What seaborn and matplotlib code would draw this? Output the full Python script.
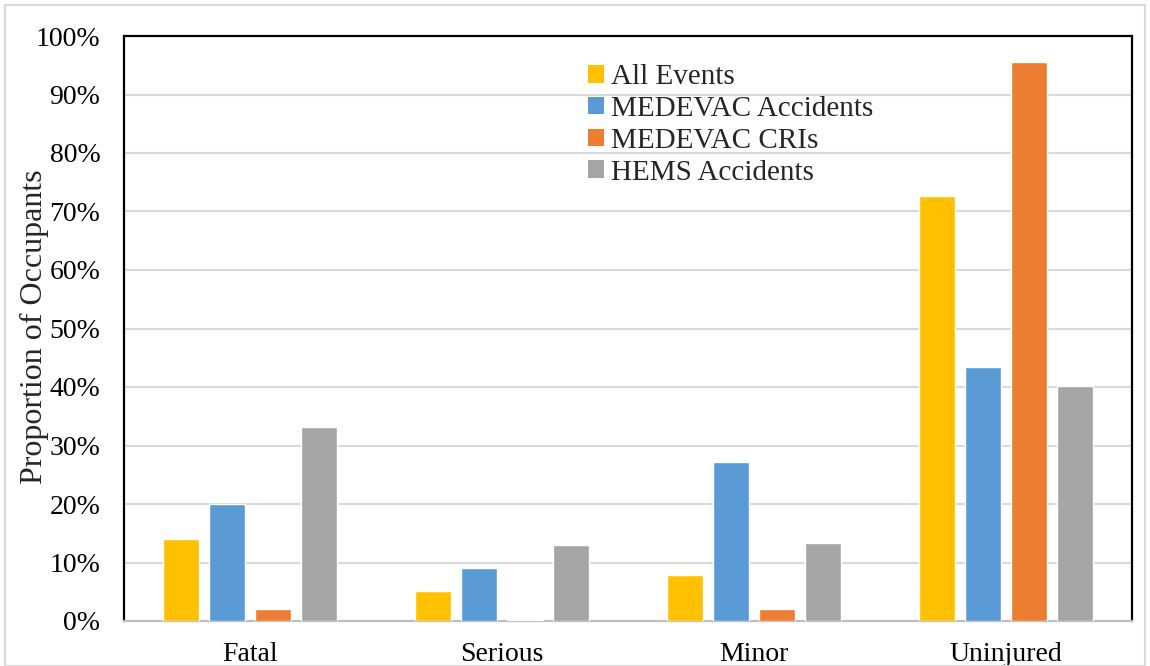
import matplotlib
matplotlib.use("Agg")
import matplotlib.pyplot as plt
from matplotlib.patches import Rectangle, Patch
from matplotlib.ticker import PercentFormatter
import pandas as pd
import seaborn as sns

categories = ["Fatal", "Serious", "Minor", "Uninjured"]
series_names = ["All Events", "MEDEVAC Accidents", "MEDEVAC CRIs", "HEMS Accidents"]
all_events = [14.0, 5.1, 7.8, 72.7]
medevac_accidents = [20.0, 9.0, 27.1, 43.5]
medevac_cris = [2.0, 0.1, 2.0, 95.5]
hems_accidents = [33.1, 13.0, 13.4, 40.1]
colors = ["#FFC000", "#5B9BD5", "#ED7D31", "#A5A5A5"]

rows = []
for name, vals in zip(series_names,
                      [all_events, medevac_accidents, medevac_cris, hems_accidents]):
    for cat, v in zip(categories, vals):
        rows.append({"Injury": cat, "Series": name, "Value": v})
df = pd.DataFrame(rows)

sns.set_theme(style="white")
plt.rcParams["font.family"] = ["Liberation Serif", "DejaVu Serif"]

fig = plt.figure(figsize=(11.5, 6.66), dpi=100)
ax = fig.add_axes([124 / 1150, 45 / 666, 1008 / 1150, 585 / 666])

sns.barplot(data=df, x="Injury", y="Value", hue="Series", order=categories,
            hue_order=series_names, palette=colors, width=0.73, gap=0.22,
            saturation=1, errorbar=None, ax=ax, legend=False, zorder=3)

ax.set_ylim(0, 100)
ax.set_yticks(range(0, 101, 10))
ax.yaxis.set_major_formatter(PercentFormatter(decimals=0))
ax.set_xlim(-0.5, 3.5)
ax.yaxis.grid(True, color="#d9d9d9", linewidth=1.5, zorder=0)
ax.set_axisbelow(True)
ax.set_xlabel("")
ax.set_ylabel("Proportion of Occupants", fontsize=23)
ax.yaxis.set_label_coords(-0.074, 0.503)
ax.tick_params(axis="both", length=0, labelsize=20, colors="black")
ax.tick_params(axis="x", pad=15)
ax.tick_params(axis="y", pad=17)

for side in ["left", "top", "right"]:
    ax.spines[side].set_color("black")
    ax.spines[side].set_linewidth(1.6)
ax.spines["bottom"].set_color("#bfbfbf")
ax.spines["bottom"].set_linewidth(1.6)

handles = [Patch(facecolor=c, edgecolor="none") for c in colors]
ax.legend(handles, series_names, loc="upper left", bbox_to_anchor=(0.46, 0.952),
          frameon=False, fontsize=21, handlelength=0.55, handleheight=0.55,
          handletextpad=0.25, labelspacing=0.2, borderaxespad=0, borderpad=0)

fig.patches.append(Rectangle((5 / 1150, 0), 1140 / 1150, 661 / 666,
                             transform=fig.transFigure, fill=False,
                             edgecolor="#d9d9d9", linewidth=1.5))

fig.savefig("out.png", dpi=100, facecolor="white")
